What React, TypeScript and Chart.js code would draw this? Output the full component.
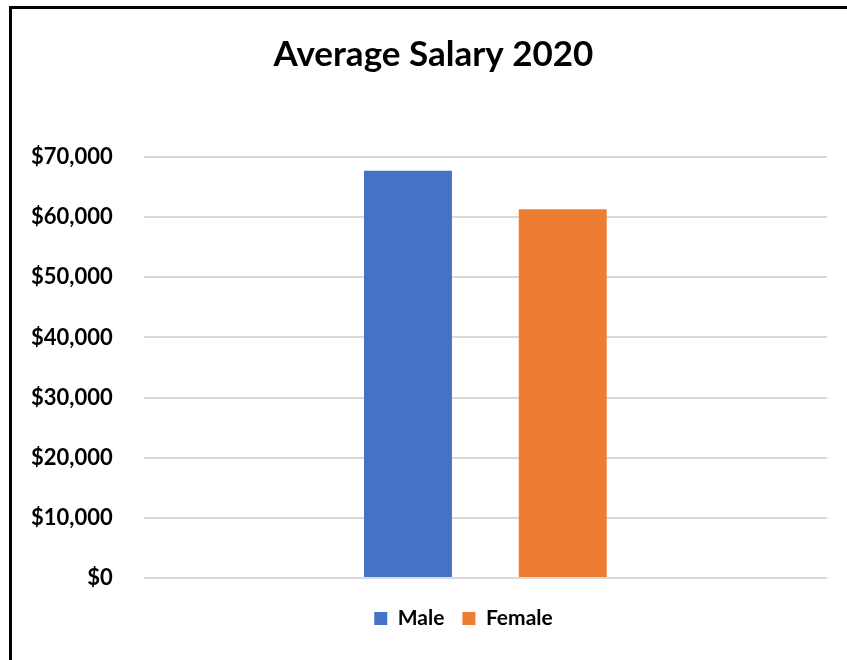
import React, { useEffect, useRef } from "react";
import { Chart, registerables } from "chart.js";

Chart.register(...registerables);

const categories = [""];
const seriesNames = ["Male", "Female"];
const maleValues = [67700];
const femaleValues = [61300];
const seriesColors = ["#4472C4", "#ED7D31"];
const yTicks = [0, 10000, 20000, 30000, 40000, 50000, 60000, 70000];

const FONT = "Lato, 'Open Sans', sans-serif";

const blockShift = {
  id: "blockShift",
  afterLayout(chart: any) {
    const lg = chart.legend;
    if (lg) {
      lg.left += 50;
      lg.right += 50;
      lg.top += 4;
      lg.bottom += 4;
    }
    const tb = chart.titleBlock;
    if (tb) {
      tb.left += 20;
      tb.right += 20;
    }
  },
};

export default function App() {
  const ref = useRef<HTMLCanvasElement | null>(null);

  useEffect(() => {
    if (!ref.current) return;
    const chart = new Chart(ref.current, {
      type: "bar",
      data: {
        labels: categories,
        datasets: [
          {
            label: seriesNames[0],
            data: maleValues,
            backgroundColor: seriesColors[0],
            categoryPercentage: 0.453,
            barPercentage: 0.568,
          },
          {
            label: seriesNames[1],
            data: femaleValues,
            backgroundColor: seriesColors[1],
            categoryPercentage: 0.453,
            barPercentage: 0.568,
          },
        ],
      },
      plugins: [blockShift],
      options: {
        animation: false,
        responsive: false,
        maintainAspectRatio: false,
        layout: { padding: { left: 0, right: 20, top: 0, bottom: 25 } },
        plugins: {
          title: {
            display: true,
            text: "Average Salary 2020",
            color: "#000",
            font: { family: FONT, size: 35, weight: "bold" },
            padding: { top: 34, bottom: 81 },
          },
          legend: {
            position: "bottom",
            labels: {
              color: "#000",
              boxWidth: 13,
              boxHeight: 13,
              padding: 18,
              font: { family: FONT, size: 21, weight: "bold" },
            },
          },
          tooltip: { enabled: false },
        },
        scales: {
          x: {
            grid: { display: false },
            border: { display: false },
            ticks: { display: false },
          },
          y: {
            min: 0,
            max: 70000,
            afterBuildTicks: (axis: any) => {
              axis.ticks = yTicks.map((v) => ({ value: v }));
            },
            grid: { color: "#d9d9d9", lineWidth: 2, drawTicks: false },
            border: { display: false },
            ticks: {
              color: "#000",
              padding: 31,
              font: { family: FONT, size: 22, weight: "bold" },
              callback: (v: any) => "$" + Number(v).toLocaleString("en-US"),
            },
          },
        },
      },
    });
    return () => chart.destroy();
  }, []);

  return (
    <div style={{ position: "absolute", left: 0, top: 0, width: 847, height: 660, overflow: "hidden", background: "#fff" }}>
      <canvas ref={ref} width={847} height={660} style={{ position: "absolute", left: 0, top: 0 }} />
      <div
        style={{
          position: "absolute",
          left: 9,
          top: 6,
          width: 900,
          height: 700,
          borderTop: "3px solid #000",
          borderLeft: "3px solid #000",
          pointerEvents: "none",
        }}
      />
    </div>
  );
}
